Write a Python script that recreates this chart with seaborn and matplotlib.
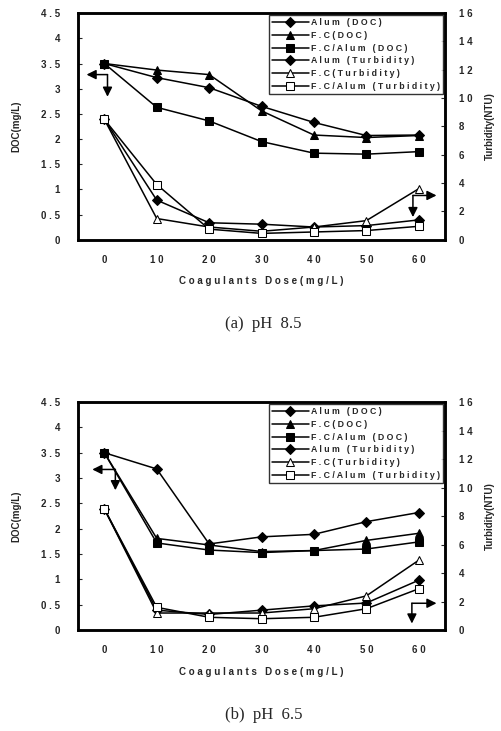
import pandas as pd
import seaborn as sns
import matplotlib
matplotlib.use("Agg")
import matplotlib.pyplot as plt

dose = [0, 10, 20, 30, 40, 50, 60]

# pH 8.5, DOC in mg/L, turbidity in NTU
a_alum_doc = [3.5, 3.22, 3.02, 2.65, 2.33, 2.07, 2.08]
a_fc_doc = [3.5, 3.37, 3.28, 2.56, 2.08, 2.03, 2.07]
a_fcalum_doc = [3.5, 2.63, 2.36, 1.95, 1.72, 1.70, 1.75]
a_alum_turb = [8.5, 2.8, 1.2, 1.1, 0.9, 1.0, 1.4]
a_fc_turb = [8.5, 1.5, 0.9, 0.6, 0.9, 1.35, 3.6]
a_fcalum_turb = [8.5, 3.9, 0.75, 0.45, 0.55, 0.65, 0.95]

# pH 6.5
b_alum_doc = [3.5, 3.18, 1.70, 1.84, 1.89, 2.14, 2.32]
b_fc_doc = [3.5, 1.81, 1.68, 1.55, 1.57, 1.77, 1.91]
b_fcalum_doc = [3.5, 1.72, 1.58, 1.53, 1.57, 1.60, 1.74]
b_alum_turb = [8.5, 1.4, 1.1, 1.4, 1.7, 1.9, 3.5]
b_fc_turb = [8.5, 1.2, 1.2, 1.2, 1.5, 2.4, 4.9]
b_fcalum_turb = [8.5, 1.6, 0.9, 0.8, 0.9, 1.5, 2.9]

doc_labels = ["Alum (DOC)", "F.C(DOC)", "F.C/Alum (DOC)"]
turb_labels = ["Alum (Turbidity)", "F.C(Turbidity)", "F.C/Alum (Turbidity)"]
doc_ticks = ["0", "0.5", "1", "1.5", "2", "2.5", "3", "3.5", "4", "4.5"]
doc_markers = [("D", "black", 5), ("^", "black", 6), ("s", "black", 6)]
turb_markers = [("D", "black", 5), ("^", "white", 6), ("s", "white", 6)]

sns.set_style("white")
plt.rcParams["font.family"] = ["Liberation Sans", "DejaVu Sans"]

fig = plt.figure(figsize=(5.01, 7.31), dpi=100)


def spaced(s):
    # the scanned figure uses widely tracked lettering
    return " ".join(s)


def arrow(ax, x0, y0, x1, y1):
    ax.annotate("", xy=(x1, y1), xytext=(x0, y0),
                arrowprops=dict(arrowstyle="-|>", color="black", lw=1.1,
                                mutation_scale=14, shrinkA=0, shrinkB=0))


def panel(rect, docs, turbs, caption, arr_left, arr_right):
    ax = fig.add_axes(rect)
    ax2 = ax.twinx()
    handles = []
    for vals, lab, (m, fc, ms) in zip(docs, doc_labels, doc_markers):
        df = pd.DataFrame({"dose": dose, "v": vals})
        sns.lineplot(data=df, x="dose", y="v", ax=ax, color="black", lw=1.1,
                     marker=m, markersize=ms, markerfacecolor=fc,
                     markeredgecolor="black", label=spaced(lab), legend=False)
        handles.append(ax.lines[-1])
    for vals, lab, (m, fc, ms) in zip(turbs, turb_labels, turb_markers):
        df = pd.DataFrame({"dose": dose, "v": vals})
        sns.lineplot(data=df, x="dose", y="v", ax=ax2, color="black", lw=1.1,
                     marker=m, markersize=ms, markerfacecolor=fc,
                     markeredgecolor="black", label=spaced(lab), legend=False)
        handles.append(ax2.lines[-1])

    ax.set_xlim(-5, 65)
    ax.set_ylim(0, 4.5)
    ax2.set_ylim(0, 16)
    ax.set_xticks(dose)
    ax.set_xticklabels([spaced(str(d)) for d in dose], fontweight="bold")
    ax.set_yticks([float(t) for t in doc_ticks])
    ax.set_yticklabels([spaced(t) for t in doc_ticks], fontweight="bold")
    ax2.set_yticks(range(0, 17, 2))
    ax2.set_yticklabels([spaced(str(t)) for t in range(0, 17, 2)],
                        fontweight="bold")
    for a in (ax, ax2):
        a.tick_params(labelsize=7, direction="in", length=3, width=0.8)
        for sp in a.spines.values():
            sp.set_linewidth(1.8)
            sp.set_color("black")
    ax.tick_params(axis="y", pad=13)
    ax.tick_params(axis="x", length=0, pad=11)
    ax2.tick_params(axis="y", pad=10)

    ax.set_xlabel("C o a g u l a n t s   D o s e ( m g / L )", fontsize=7,
                  fontweight="bold", labelpad=8)
    ax.set_ylabel("DOC(mg/L)", fontsize=7, fontweight="bold", labelpad=14)
    ax2.set_ylabel("Turbidity(NTU)", fontsize=7, fontweight="bold", labelpad=9)

    leg = ax2.legend(handles=handles, loc="upper right",
                     prop={"size": 6.3, "weight": "bold"},
                     handlelength=4.2, frameon=True, fancybox=False,
                     borderpad=0.4, labelspacing=0.42, handletextpad=0.2,
                     borderaxespad=0.2)
    leg.get_frame().set_edgecolor("black")
    leg.get_frame().set_linewidth(1.0)

    # direction arrows
    cx, cy, lx, dy = arr_left
    arrow(ax, cx, cy, lx, cy)
    arrow(ax, cx, cy, cx, dy)
    cx, cy, rx, dy = arr_right
    arrow(ax, cx, cy, rx, cy)
    arrow(ax, cx, cy, cx, dy)

    ax.text(0.505, -0.37, caption, transform=ax.transAxes, ha="center",
            va="center", fontsize=12, family=["Liberation Serif", "DejaVu Serif"])


panel([0.156, 0.672, 0.732, 0.310],
      [a_alum_doc, a_fc_doc, a_fcalum_doc],
      [a_alum_turb, a_fc_turb, a_fcalum_turb],
      "(a)  pH  8.5", (0.6, 3.28, -3.4, 2.84), (58.9, 0.88, 63.4, 0.45))

panel([0.156, 0.138, 0.732, 0.312],
      [b_alum_doc, b_fc_doc, b_fcalum_doc],
      [b_alum_turb, b_fc_turb, b_fcalum_turb],
      "(b)  pH  6.5", (2.1, 3.17, -2.3, 2.76), (58.7, 0.53, 63.4, 0.13))

fig.savefig("out.png", dpi=100)
